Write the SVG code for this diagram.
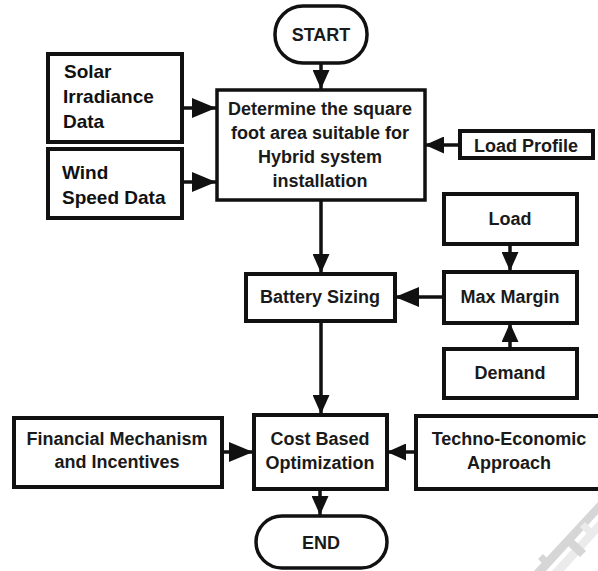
<svg xmlns="http://www.w3.org/2000/svg" width="598" height="571" viewBox="0 0 598 571">
  <style>
    .box { fill: #ffffff; stroke: #111111; stroke-width: 4; }
    .main { fill: #ffffff; stroke: #111111; stroke-width: 3.5; }
    .lbl { font-family: "Liberation Sans", Arial, sans-serif; font-weight: bold; font-size: 18px; fill: #1a1a1a; text-anchor: middle; }
    .lft { font-family: "Liberation Sans", Arial, sans-serif; font-weight: bold; font-size: 19px; fill: #111111; }
    .wire { fill: none; stroke: #111111; stroke-width: 3.5; }
    .wm { fill: #d6d6d6; }
    .wm2 { fill: #ebebeb; }
  </style>
  <defs>
    <marker id="big" markerUnits="userSpaceOnUse" markerWidth="24" markerHeight="20" refX="24" refY="10" orient="auto">
      <path d="M0,0 L24,10 L0,20 z" fill="#111111"/>
    </marker>
    <marker id="mid" markerUnits="userSpaceOnUse" markerWidth="19" markerHeight="17" refX="19" refY="8.5" orient="auto">
      <path d="M0,0 L19,8.5 L0,17 z" fill="#111111"/>
    </marker>
  </defs>

  <!-- faint watermark fragments, lower right -->
  <g id="watermark">
    <polygon class="wm" points="598,502 598,514 546,571 534,571"/>
    <polygon class="wm2" points="598,521 598,533 564,571 552,571"/>
    <polygon class="wm" points="572,538 586,551 580,557 566,544"/>
    <polygon class="wm" points="543,554 552,563 547,568 538,559"/>
    <polygon class="wm2" points="585,522 597,534 592,539 580,527"/>
  </g>

  <g id="connectors">
    <line class="wire" x1="321" y1="63" x2="321" y2="89" marker-end="url(#mid)"/>
    <line class="wire" x1="182" y1="108" x2="216" y2="108" marker-end="url(#big)"/>
    <line class="wire" x1="182" y1="182" x2="216" y2="182" marker-end="url(#big)"/>
    <line class="wire" x1="459" y1="145" x2="425" y2="145" marker-end="url(#mid)"/>
    <line class="wire" x1="321" y1="200" x2="321" y2="273" marker-end="url(#mid)"/>
    <line class="wire" x1="443" y1="297" x2="395" y2="297" marker-end="url(#big)"/>
    <line class="wire" x1="510" y1="244" x2="510" y2="271" marker-end="url(#mid)"/>
    <line class="wire" x1="510" y1="348" x2="510" y2="323" marker-end="url(#mid)"/>
    <line class="wire" x1="321" y1="321" x2="321" y2="414" marker-end="url(#mid)"/>
    <line class="wire" x1="222" y1="452" x2="253" y2="452" marker-end="url(#big)"/>
    <line class="wire" x1="415" y1="452" x2="387" y2="452" marker-end="url(#mid)"/>
    <line class="wire" x1="320" y1="489" x2="320" y2="515" marker-end="url(#mid)"/>
  </g>

  <g id="start">
    <rect class="main" x="275" y="6" width="92" height="57" rx="28" ry="28"/>
    <text class="lbl" x="321" y="41">START</text>
  </g>

  <g id="solar">
    <rect class="box" x="48" y="54" width="134" height="88"/>
    <text class="lft" x="64" y="78">Solar</text>
    <text class="lft" x="63" y="103">Irradiance</text>
    <text class="lft" x="63" y="128">Data</text>
  </g>

  <g id="wind">
    <rect class="box" x="48" y="149" width="134" height="69"/>
    <text class="lft" x="62" y="179">Wind</text>
    <text class="lft" x="62" y="204">Speed Data</text>
  </g>

  <g id="area">
    <rect class="main" x="217" y="90" width="208" height="110"/>
    <text class="lbl" x="320" y="115">Determine the square</text>
    <text class="lbl" x="320" y="139">foot area suitable for</text>
    <text class="lbl" x="320" y="163">Hybrid system</text>
    <text class="lbl" x="320" y="187">installation</text>
  </g>

  <g id="load-profile">
    <rect class="box" x="460" y="131" width="133" height="27"/>
    <text class="lbl" x="526" y="152">Load Profile</text>
  </g>

  <g id="load">
    <rect class="box" x="444" y="194" width="133" height="50"/>
    <text class="lbl" x="510" y="225">Load</text>
  </g>

  <g id="max-margin">
    <rect class="box" x="444" y="272" width="133" height="51"/>
    <text class="lbl" x="510" y="303">Max Margin</text>
  </g>

  <g id="demand">
    <rect class="box" x="444" y="349" width="133" height="49"/>
    <text class="lbl" x="510" y="379">Demand</text>
  </g>

  <g id="battery">
    <rect class="box" x="246" y="274" width="149" height="47"/>
    <text class="lbl" x="320" y="303">Battery Sizing</text>
  </g>

  <g id="financial">
    <rect class="box" x="14" y="418" width="208" height="69"/>
    <text class="lbl" x="117" y="445">Financial Mechanism</text>
    <text class="lbl" x="117" y="468">and Incentives</text>
  </g>

  <g id="cost">
    <rect class="box" x="254" y="415" width="133" height="74"/>
    <text class="lbl" x="320" y="445">Cost Based</text>
    <text class="lbl" x="320" y="469">Optimization</text>
  </g>

  <g id="techno">
    <rect class="box" x="416" y="416" width="188" height="73"/>
    <text class="lbl" x="509" y="445">Techno-Economic</text>
    <text class="lbl" x="509" y="469">Approach</text>
  </g>

  <g id="end">
    <rect class="main" x="256" y="516" width="131" height="52" rx="26" ry="26"/>
    <text class="lbl" x="321" y="549">END</text>
  </g>
</svg>
